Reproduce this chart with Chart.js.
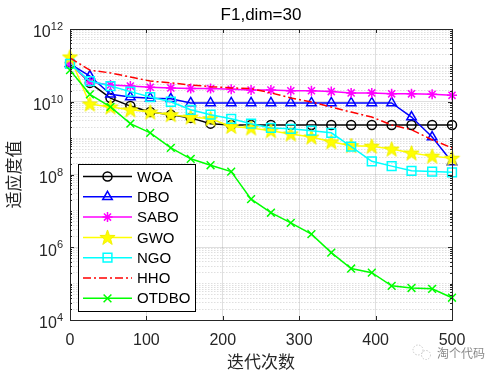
<!DOCTYPE html>
<html lang="zh">
  <head>
    <meta charset="utf-8" />
    <title>F1,dim=30</title>
    <style>
      * {
        margin: 0;
        padding: 0;
      }
      body {
        background: #fff;
      }
      .chartBox {
        width: 500px;
        height: 375px;
      }
    </style>
  </head>
  <body>
    <div class="chartBox">
      <canvas id="myChart" width="500" height="375"></canvas>
    </div>

    <script src="https://cdn.jsdelivr.net/npm/chart.js"></script>

    <script>
      // data block
      const iterations = [0, 26, 53, 79, 105, 132, 158, 184, 211, 237, 263, 289, 316, 342, 368, 395, 421, 447, 474, 500];
      const woa = [1.2e11, 3.3e10, 1.26e10, 7.6e9, 5.2e9, 4.4e9, 3.6e9, 2.5e9, 2.3e9, 2.3e9, 2.3e9, 2.3e9, 2.3e9, 2.3e9, 2.3e9, 2.3e9, 2.3e9, 2.3e9, 2.3e9, 2.3e9];
      const dbo = [1.1e11, 5.1e10, 1.6e10, 1.35e10, 1.25e10, 1.2e10, 9.3e9, 9.3e9, 9.3e9, 9.3e9, 9.3e9, 9.3e9, 9.3e9, 9.3e9, 9.3e9, 9.3e9, 9.3e9, 3.8e9, 1.07e9, 2.2e8];
      const sabo = [1.1e11, 3.5e10, 2.9e10, 2.7e10, 2.5e10, 2.4e10, 2.3e10, 2.3e10, 2.2e10, 2.1e10, 2.1e10, 2.0e10, 2.0e10, 1.9e10, 1.75e10, 1.75e10, 1.65e10, 1.65e10, 1.6e10, 1.5e10];
      const gwo = [1.7e11, 8.7e9, 7.2e9, 6e9, 5.2e9, 4.4e9, 3.8e9, 3.4e9, 2.1e9, 1.9e9, 1.6e9, 1.3e9, 1.07e9, 7.9e8, 6.2e8, 6.0e8, 5e8, 3.9e8, 3.2e8, 2.8e8];
      const ngo = [1.1e11, 3.7e10, 2.7e10, 1.9e10, 1.35e10, 1e10, 6e9, 4.4e9, 3.4e9, 2.5e9, 1.9e9, 1.8e9, 1.6e9, 1.4e9, 5.8e8, 2.3e8, 1.7e8, 1.26e8, 1.2e8, 1.15e8];
      const hho = [1.6e11, 7.4e10, 6.2e10, 4.8e10, 3.7e10, 3.3e10, 2.9e10, 2.6e10, 2.4e10, 2.3e10, 1.75e10, 1.27e10, 9.8e9, 7.2e9, 5.2e9, 3.8e9, 2.3e9, 1.7e9, 9e8, 5.4e8];
      const otdbo = [7.4e10, 1.6e10, 7.2e9, 2.5e9, 1.4e9, 5.4e8, 2.7e8, 1.8e8, 1.2e8, 2.1e7, 8.9e6, 4.7e6, 2.3e6, 7.1e5, 2.6e5, 2.0e5, 8.7e4, 7.6e4, 7.2e4, 4.1e4];

      const xTicks = [0, 100, 200, 300, 400, 500];
      const yLabelExps = [4, 6, 8, 10, 12];

      const axisColor = "#262626";
      const gridColor = "rgba(38, 38, 38, 0.15)";
      const tickFont = '16px "Liberation Sans", Arial, sans-serif';
      const cjkFont = '"Noto Sans CJK SC", sans-serif';

      // log grid values 1..9 x 10^n
      const yGridValues = [];
      for (let e = yLabelExps[0]; e < yLabelExps[yLabelExps.length - 1]; e++) {
        for (let m = 1; m <= 9; m++) yGridValues.push(m * Math.pow(10, e));
      }
      yGridValues.push(Math.pow(10, yLabelExps[yLabelExps.length - 1]));

      const isLabelled = (v) => {
        const l = Math.log10(v);
        return Math.abs(l - Math.round(l)) < 1e-9 && yLabelExps.includes(Math.round(l));
      };

      // pentagram marker for GWO
      const pentagram = document.createElement("canvas");
      pentagram.width = 17;
      pentagram.height = 17;
      (() => {
        const c = pentagram.getContext("2d");
        c.beginPath();
        for (let k = 0; k < 10; k++) {
          const r = k % 2 ? 3.2 : 8;
          const a = -Math.PI / 2 + (k * Math.PI) / 5;
          c.lineTo(8.5 + r * Math.cos(a), 9 + r * Math.sin(a));
        }
        c.closePath();
        c.fillStyle = "#ffff00";
        c.fill();
        c.strokeStyle = "#f0f000";
        c.lineWidth = 1;
        c.stroke();
      })();

      const toPoints = (arr) => arr.map((v, i) => ({ x: iterations[i], y: v }));

      const series = [
        { label: "WOA", data: woa, color: "#000000", style: "circle", r: 4.5 },
        { label: "DBO", data: dbo, color: "#0000ff", style: "triangle", r: 5.5 },
        { label: "SABO", data: sabo, color: "#ff00ff", style: "star", r: 5 },
        { label: "GWO", data: gwo, color: "#ffff00", style: pentagram, r: 6 },
        { label: "NGO", data: ngo, color: "#00ffff", style: "rect", r: 6.2 },
        { label: "HHO", data: hho, color: "#ff0000", style: false, r: 0, dash: [8, 3, 2, 3] },
        { label: "OTDBO", data: otdbo, color: "#00ff00", style: "crossRot", r: 5.5 },
      ];

      const data = {
        datasets: series.map((s, i) => ({
          label: s.label,
          data: toPoints(s.data),
          borderColor: s.color,
          backgroundColor: "rgba(0,0,0,0)",
          borderWidth: 1.5,
          borderDash: s.dash || [],
          pointStyle: s.style,
          pointRadius: s.r,
          pointBorderWidth: 1.5,
          pointBorderColor: s.color,
          pointBackgroundColor: "rgba(0,0,0,0)",
          tension: 0,
          clip: false,
          order: series.length - i,
        })),
      };

      // axes box, inward ticks, labels, legend
      const matlabAxes = {
        id: "matlabAxes",
        afterDatasetsDraw(chart) {
          const { ctx, chartArea: a, scales: { x, y } } = chart;
          ctx.save();
          ctx.strokeStyle = axisColor;
          ctx.lineWidth = 1;
          ctx.beginPath();
          xTicks.forEach((v) => {
            const px = Math.round(x.getPixelForValue(v)) + 0.5;
            ctx.moveTo(px, a.bottom);
            ctx.lineTo(px, a.bottom - 4);
            ctx.moveTo(px, a.top);
            ctx.lineTo(px, a.top + 4);
          });
          yGridValues.forEach((v) => {
            const py = Math.round(y.getPixelForValue(v)) + 0.5;
            const len = isLabelled(v) ? 4 : 2;
            ctx.moveTo(a.left, py);
            ctx.lineTo(a.left + len, py);
            ctx.moveTo(a.right, py);
            ctx.lineTo(a.right - len, py);
          });
          ctx.stroke();
          ctx.strokeRect(Math.round(a.left) + 0.5, Math.round(a.top) + 0.5, Math.round(a.right - a.left), Math.round(a.bottom - a.top));

          // y tick labels 10^n
          ctx.fillStyle = axisColor;
          ctx.textBaseline = "middle";
          yLabelExps.forEach((e) => {
            const py = y.getPixelForValue(Math.pow(10, e));
            ctx.font = '11px "Liberation Sans", Arial, sans-serif';
            const ew = ctx.measureText(String(e)).width;
            ctx.textAlign = "left";
            ctx.fillText(String(e), 63 - ew, py - 2);
            ctx.font = tickFont;
            ctx.textAlign = "right";
            ctx.fillText("10", 63 - ew, py + 4);
          });

          // title and axis titles
          const cx = (a.left + a.right) / 2;
          ctx.fillStyle = "#000";
          ctx.textAlign = "center";
          ctx.font = '17px "Liberation Sans", Arial, sans-serif';
          ctx.fillText("F1,dim=30", cx, 15);
          ctx.fillStyle = axisColor;
          ctx.font = "17px " + cjkFont;
          ctx.fillText("迭代次数", cx, 362);
          ctx.save();
          ctx.translate(14, (a.top + a.bottom) / 2);
          ctx.rotate(-Math.PI / 2);
          ctx.fillText("适应度值", 0, 0);
          ctx.restore();

          // watermark
          ctx.fillStyle = "#8a8a8a";
          ctx.textAlign = "left";
          ctx.font = "12px " + cjkFont;
          ctx.fillText("淘个代码", 437, 353);
          ctx.strokeStyle = "#c8c8c8";
          ctx.setLineDash([1.5, 1.5]);
          ctx.beginPath();
          ctx.arc(418, 350, 5, 0, Math.PI * 2);
          ctx.stroke();
          ctx.beginPath();
          ctx.arc(426, 355, 4.5, 0, Math.PI * 2);
          ctx.stroke();
          ctx.setLineDash([]);
          ctx.restore();
        },
        afterDraw(chart) {
          const { ctx } = chart;
          const left = 78, top = 164, w = 117, h = 147, rowH = 20.3;
          ctx.save();
          ctx.fillStyle = "#fff";
          ctx.fillRect(left, top, w, h);
          ctx.strokeStyle = "#000";
          ctx.lineWidth = 1;
          ctx.strokeRect(left + 0.5, top + 0.5, w, h);
          ctx.font = '15px "Liberation Sans", Arial, sans-serif';
          ctx.textBaseline = "middle";
          ctx.textAlign = "left";
          chart.data.datasets.forEach((ds, i) => {
            const yy = top + 12.5 + i * rowH;
            ctx.strokeStyle = ds.borderColor;
            ctx.lineWidth = ds.borderWidth;
            ctx.setLineDash(ds.borderDash);
            ctx.beginPath();
            ctx.moveTo(83, yy);
            ctx.lineTo(132, yy);
            ctx.stroke();
            ctx.setLineDash([]);
            if (ds.pointStyle) {
              ctx.fillStyle = "rgba(0,0,0,0)";
              ctx.lineWidth = ds.pointBorderWidth;
              Chart.helpers.drawPoint(ctx, { pointStyle: ds.pointStyle, radius: ds.pointRadius, rotation: 0, borderWidth: ds.pointBorderWidth }, 107.5, yy);
            }
            ctx.fillStyle = "#000";
            ctx.fillText(ds.label, 137, yy + 1);
          });
          ctx.restore();
        },
      };

      // config block
      const config = {
        type: "line",
        data: data,
        options: {
          responsive: false,
          animation: false,
          events: [],
          layout: { padding: { top: 29, right: 48, left: 0, bottom: 0 } },
          plugins: {
            legend: { display: false },
            tooltip: { enabled: false },
          },
          scales: {
            x: {
              type: "linear",
              min: 0,
              max: 500,
              afterBuildTicks: (scale) => {
                scale.ticks = xTicks.map((v) => ({ value: v }));
              },
              afterFit: (scale) => {
                scale.height = 55;
              },
              grid: { color: gridColor, lineWidth: 1, drawTicks: false },
              border: { display: false },
              ticks: {
                color: axisColor,
                font: { family: '"Liberation Sans", Arial, sans-serif', size: 16 },
                padding: 11,
                maxRotation: 0,
                autoSkip: false,
              },
            },
            y: {
              type: "logarithmic",
              min: 1e4,
              max: 1e12,
              afterBuildTicks: (scale) => {
                scale.ticks = yGridValues.map((v) => ({ value: v }));
              },
              afterFit: (scale) => {
                scale.width = 70;
              },
              grid: { color: gridColor, lineWidth: 1, drawTicks: false },
              border: {
                display: false,
                dash: (ctx) => (ctx.tick && isLabelled(ctx.tick.value) ? [] : [1.5, 1.5]),
              },
              ticks: { display: false, autoSkip: false },
            },
          },
        },
        plugins: [matlabAxes],
      };

      // init render block
      const myChart = new Chart(document.getElementById("myChart"), config);
    </script>
  </body>
</html>
